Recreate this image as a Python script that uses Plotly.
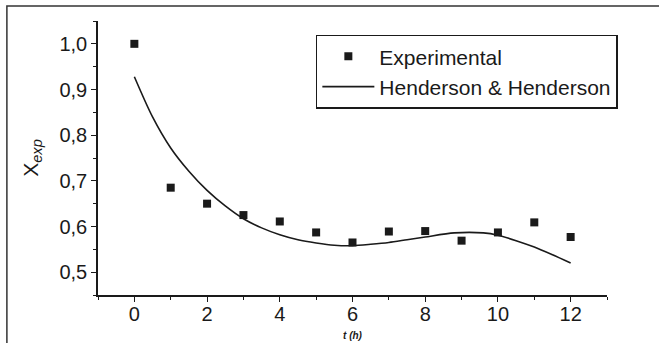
import plotly.graph_objects as go

# Experimental data
t_exp = [0, 1, 2, 3, 4, 5, 6, 7, 8, 9, 10, 11, 12]
x_exp = [1.000, 0.685, 0.650, 0.625, 0.611, 0.587, 0.565, 0.589, 0.590, 0.569, 0.587, 0.609, 0.577]

# Henderson & Henderson model curve
t_model = [0, 0.5, 1, 1.5, 2, 2.5, 3, 3.5, 4, 4.5, 5, 5.5, 6, 6.5, 7, 7.5, 8,
           8.8, 9.6, 10, 10.5, 11, 11.5, 12]
x_model = [0.928, 0.840, 0.772, 0.721, 0.679, 0.645, 0.617, 0.597, 0.582, 0.571,
           0.564, 0.559, 0.558, 0.561, 0.565, 0.571, 0.577, 0.586, 0.586, 0.581,
           0.569, 0.555, 0.538, 0.520]

x_ticks = [0, 2, 4, 6, 8, 10, 12]
y_ticks = [0.5, 0.6, 0.7, 0.8, 0.9, 1.0]
y_ticklabels = ["0,5", "0,6", "0,7", "0,8", "0,9", "1,0"]

FONT = "Liberation Sans, Arial, Helvetica, sans-serif"
INK = "#1a1a1a"

fig = go.Figure()
fig.add_trace(go.Scatter(
    x=t_exp, y=x_exp, mode="markers", name="Experimental",
    marker=dict(symbol="square", size=8, color=INK, line=dict(width=0)),
))
fig.add_trace(go.Scatter(
    x=t_model, y=x_model, mode="lines", name="Henderson & Henderson",
    line=dict(color=INK, width=1.6, shape="spline", smoothing=0.8),
))

axis_common = dict(
    showline=True, linecolor=INK, linewidth=1.5,
    ticks="outside", ticklen=5, tickwidth=1.3, tickcolor=INK,
    showgrid=False, zeroline=False, mirror=False, automargin=False,
    tickfont=dict(family=FONT, size=20, color=INK),
)

fig.update_xaxes(
    range=[-1, 13], tickmode="array", tickvals=x_ticks,
    ticktext=[str(v) for v in x_ticks], ticklabelstandoff=-5,
    minor=dict(dtick=1, tick0=0, ticks="outside", ticklen=3, tickwidth=1.3, tickcolor=INK),
    title=dict(text="<b><i>t (h)</i></b>", font=dict(family=FONT, size=10, color=INK), standoff=8),
    **axis_common,
)
fig.update_yaxes(
    range=[0.45, 1.05], tickmode="array", tickvals=y_ticks, ticktext=y_ticklabels,
    minor=dict(dtick=0.05, tick0=0.45, ticks="outside", ticklen=3, tickwidth=1.3, tickcolor=INK),
    title=dict(text="X<sub><i>exp</i></sub>", font=dict(family=FONT, size=21, color=INK), standoff=15),
    **axis_common,
)

# outer frame (only top and left edges visible in the reference)
fig.add_shape(type="rect", xref="paper", yref="paper",
              x0=-0.179, x1=1.2, y0=-0.3, y1=1.0547,
              line=dict(color="#333333", width=1.5), layer="below")

fig.update_layout(
    width=659, height=343,
    margin=dict(l=98, r=52, t=21, b=48, autoexpand=False),
    paper_bgcolor="white", plot_bgcolor="white",
    font=dict(family=FONT, color=INK),
    legend=dict(
        x=0.428, y=0.95, xanchor="left", yanchor="top",
        bgcolor="white", bordercolor=INK, borderwidth=1.5,
        font=dict(family=FONT, size=21, color=INK),
        itemwidth=52, tracegroupgap=0,
    ),
    showlegend=True,
)

fig.write_html("out.html")
